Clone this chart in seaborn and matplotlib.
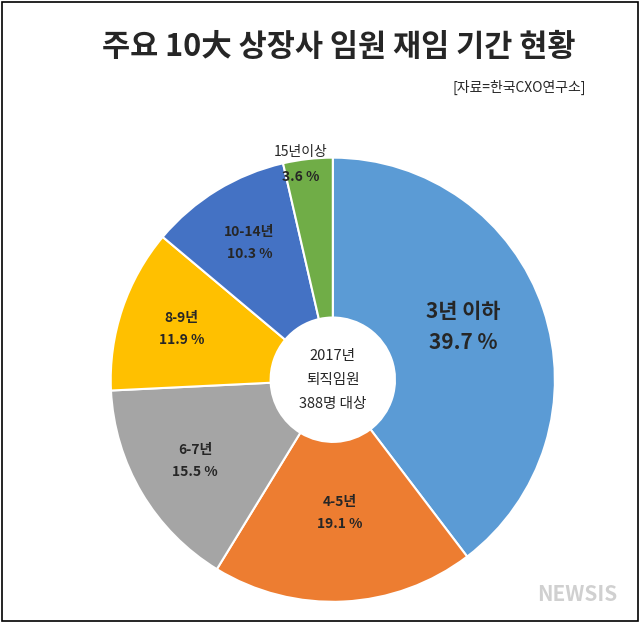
import numpy as np
import matplotlib
matplotlib.use("Agg")
import matplotlib.pyplot as plt
import seaborn as sns
from matplotlib.patches import Rectangle

sns.set_theme(style="white")
plt.rcParams['font.family'] = ['Noto Sans CJK KR', 'DejaVu Sans']

categories = ["3년 이하", "4-5년", "6-7년", "8-9년", "10-14년", "15년이상"]
values = [39.7, 19.1, 15.5, 11.9, 10.3, 3.6]
colors = ["#5B9BD5", "#ED7D31", "#A5A5A5", "#FFC000", "#4472C4", "#70AD47"]
label_r = [0.62, 0.6, 0.72, 0.72, 0.72, 0.92]

fig = plt.figure(figsize=(6.4, 6.23), dpi=100)
fig.patches.append(Rectangle((0.003, 0.003), 0.994, 0.994, transform=fig.transFigure,
                             fill=False, edgecolor="black", lw=1.2))
ax = fig.add_axes([0.173, 0.034, 0.694, 0.713])
wedges, _ = ax.pie(values, colors=colors, startangle=90, counterclock=False,
                   wedgeprops=dict(width=0.72, edgecolor="white", linewidth=1.5))
ax.set_xlim(-1, 1)
ax.set_ylim(-1, 1)
ax.set_aspect("equal")

for w, cat, v, r in zip(wedges, categories, values, label_r):
    ang = np.deg2rad((w.theta1 + w.theta2) / 2)
    x, y = r * np.cos(ang), r * np.sin(ang)
    if cat == "3년 이하":
        ax.text(x, y + 0.04, f"{cat}\n{v} %", ha="center", va="center", fontsize=15,
                fontweight="bold", linespacing=1.6)
    elif cat == "15년이상":
        ax.text(x - 0.04, y + 0.11, cat, ha="center", va="center", fontsize=10)
        ax.text(x - 0.04, y, f"{v} %", ha="center", va="center", fontsize=10, fontweight="bold")
    else:
        ax.text(x, y, f"{cat}\n{v} %", ha="center", va="center", fontsize=10,
                fontweight="bold", linespacing=1.7)

ax.text(0, 0, "2017년\n퇴직임원\n388명 대상", ha="center", va="center", fontsize=10.5,
        linespacing=1.9)

fig.text(0.53, 0.925, "주요 10大 상장사 임원 재임 기간 현황", ha="center", va="center",
         fontsize=22, fontweight="bold")
fig.text(0.915, 0.86, "[자료=한국CXO연구소]", ha="right", va="center", fontsize=10)
fig.text(0.965, 0.045, "NEWSIS", ha="right", va="center", fontsize=15, fontweight="bold",
         fontstyle="italic", color="#d0d0d0")
fig.savefig("out.png", dpi=100)
